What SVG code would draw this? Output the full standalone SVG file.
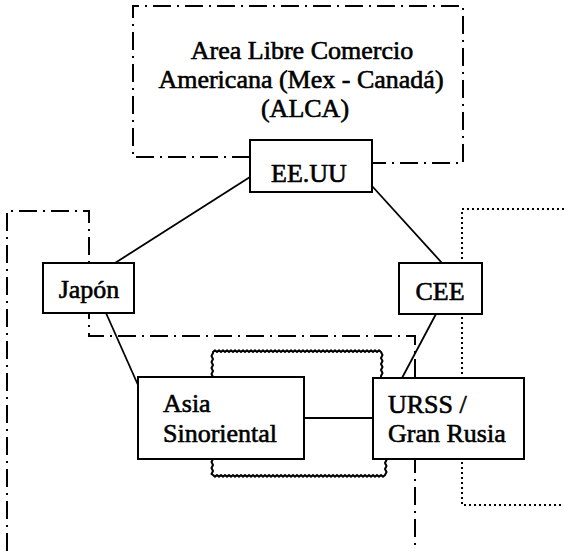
<svg xmlns="http://www.w3.org/2000/svg" width="564" height="551" viewBox="0 0 564 551">
<style>
.box{fill:#fff;stroke:#000;stroke-width:2}
.t{font-family:"Liberation Serif","Times New Roman",serif;font-size:26px;fill:#000;stroke:#000;stroke-width:0.6}
.dd{fill:none;stroke:#000;stroke-width:2;stroke-dasharray:18 6 2 6}
.dot{fill:none;stroke:#000;stroke-width:2;stroke-dasharray:2 3}
.ln{fill:none;stroke:#000;stroke-width:1.8}
.wv{fill:none;stroke:#000;stroke-width:2;stroke-linejoin:round}
</style>
<rect width="564" height="551" fill="#fff"/>
<g id="regions">
  <path class="dd" d="M250,157 L133,157 L133,6 L463,6 L463,163 L372,163"/>
  <path class="dd" d="M7,551 L7,211 L89,211 L89,336 L415,336 L415,551"/>
  <path class="dot" d="M564,209 L462,209 L462,505 L564,505"/>
</g>
<g id="wavy">
  <path class="wv" d="M213,377 l-1.5,-3 1.5,-3 -1.5,-3 1.5,-3 -1.5,-3 1.5,-3 -1.5,-3 1.5,-3 0,-1 l2,-1.8 2,1.8 2,-1.8 2,1.8 2,-1.8 2,1.8 2,-1.8 2,1.8 2,-1.8 2,1.8 2,-1.8 2,1.8 2,-1.8 2,1.8 2,-1.8 2,1.8 2,-1.8 2,1.8 2,-1.8 2,1.8 2,-1.8 2,1.8 2,-1.8 2,1.8 2,-1.8 2,1.8 2,-1.8 2,1.8 2,-1.8 2,1.8 2,-1.8 2,1.8 2,-1.8 2,1.8 2,-1.8 2,1.8 2,-1.8 2,1.8 2,-1.8 2,1.8 2,-1.8 2,1.8 2,-1.8 2,1.8 2,-1.8 2,1.8 2,-1.8 2,1.8 2,-1.8 2,1.8 2,-1.8 2,1.8 2,-1.8 2,1.8 2,-1.8 2,1.8 2,-1.8 2,1.8 2,-1.8 2,1.8 2,-1.8 2,1.8 2,-1.8 2,1.8 2,-1.8 2,1.8 2,-1.8 2,1.8 2,-1.8 2,1.8 2,-1.8 2,1.8 2,-1.8 2,1.8 2,-1.8 2,1.8 2,-1.8 2,1.8 2,-1.8 2,1.8 2,-1.8 2,1.8 2,-1.8 2,1.8 l1.5,3 -1.5,3 1.5,3 -1.5,3 1.5,3 -1.5,3 1.5,3 -1.5,3 0,1"/>
  <path class="wv" d="M213,459 l-1.5,3 1.5,3 -1.5,3 1.5,3 -1.5,3 1.5,1 l2,1.8 2,-1.8 2,1.8 2,-1.8 2,1.8 2,-1.8 2,1.8 2,-1.8 2,1.8 2,-1.8 2,1.8 2,-1.8 2,1.8 2,-1.8 2,1.8 2,-1.8 2,1.8 2,-1.8 2,1.8 2,-1.8 2,1.8 2,-1.8 2,1.8 2,-1.8 2,1.8 2,-1.8 2,1.8 2,-1.8 2,1.8 2,-1.8 2,1.8 2,-1.8 2,1.8 2,-1.8 2,1.8 2,-1.8 2,1.8 2,-1.8 2,1.8 2,-1.8 2,1.8 2,-1.8 2,1.8 2,-1.8 2,1.8 2,-1.8 2,1.8 2,-1.8 2,1.8 2,-1.8 2,1.8 2,-1.8 2,1.8 2,-1.8 2,1.8 2,-1.8 2,1.8 2,-1.8 2,1.8 2,-1.8 2,1.8 2,-1.8 2,1.8 2,-1.8 2,1.8 2,-1.8 2,1.8 2,-1.8 2,1.8 2,-1.8 2,1.8 2,-1.8 2,1.8 2,-1.8 2,1.8 2,-1.8 2,1.8 2,-1.8 2,1.8 2,-1.8 2,1.8 2,-1.8 2,1.8 2,-1.8 2,1.8 2,-1.8 l1.5,-3 -1.5,-3 1.5,-3 -1.5,-3 1.5,-3 -1.5,-1"/>
</g>
<g id="connectors">
  <line class="ln" x1="250" y1="177" x2="115" y2="263"/>
  <line class="ln" x1="372" y1="186" x2="442" y2="263"/>
  <line class="ln" x1="106" y1="313" x2="138" y2="385"/>
  <line class="ln" x1="436" y1="314" x2="402" y2="378"/>
  <line class="ln" x1="304" y1="418" x2="373" y2="418"/>
</g>
<g id="alca">
  <text class="t" x="302" y="59" text-anchor="middle">Area Libre Comercio</text>
  <text class="t" x="301" y="88" text-anchor="middle">Americana (Mex - Canadá)</text>
  <text class="t" x="305" y="117" text-anchor="middle">(ALCA)</text>
</g>
<g id="eeuu">
  <rect class="box" x="250" y="140" width="122" height="52"/>
  <text class="t" x="309" y="182" text-anchor="middle">EE.UU</text>
</g>
<g id="japon">
  <rect class="box" x="43" y="263" width="91" height="50"/>
  <text class="t" x="89" y="298" text-anchor="middle">Japón</text>
</g>
<g id="cee">
  <rect class="box" x="399" y="263" width="83" height="51"/>
  <text class="t" x="440" y="300" text-anchor="middle">CEE</text>
</g>
<g id="asia">
  <rect class="box" x="138" y="377" width="166" height="82"/>
  <text class="t" x="163" y="412">Asia</text>
  <text class="t" x="163" y="442">Sinoriental</text>
</g>
<g id="urss">
  <rect class="box" x="373" y="378" width="151" height="81"/>
  <text class="t" x="388" y="413">URSS /</text>
  <text class="t" x="388" y="442">Gran Rusia</text>
</g>
</svg>
